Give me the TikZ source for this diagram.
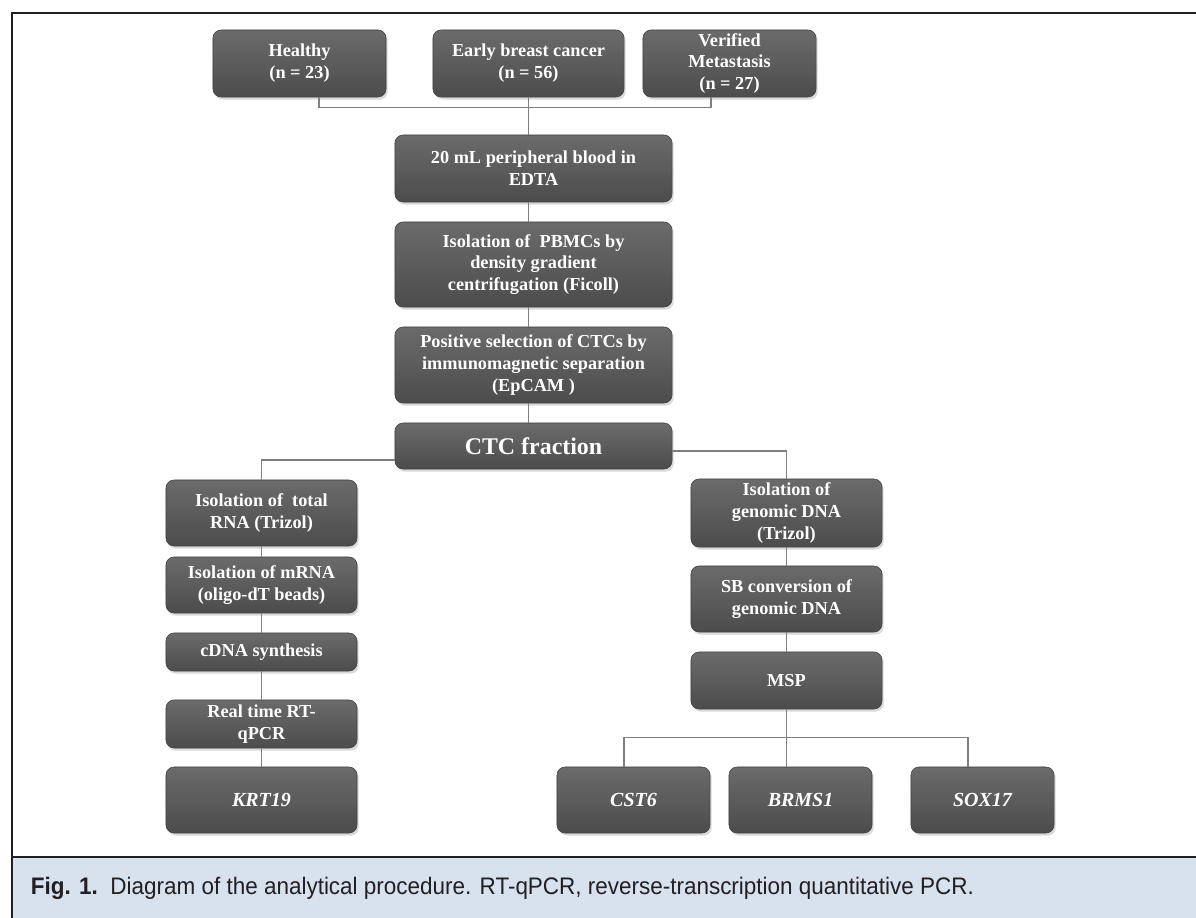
\documentclass[tikz,border=0pt]{standalone}
\usepackage{fontspec}
\setmainfont{Liberation Serif}
\newfontfamily\capfont[FakeStretch=0.94]{Liberation Sans}
\usetikzlibrary{calc,shadows}

\definecolor{boxtop}{HTML}{6B6B6B}
\definecolor{boxbot}{HTML}{4C4C4C}
\definecolor{linkgray}{HTML}{7F7F7F}
\definecolor{capblue}{HTML}{D8E1EE}
\definecolor{inkdark}{HTML}{231F20}

\begin{document}
\begin{tikzpicture}[x=0.025cm, y=-0.025cm,
    stage/.style={rounded corners=0.2cm, draw=boxbot!85!black, line width=0.4pt,
      top color=boxtop, bottom color=boxbot, text=white, align=center, inner sep=1pt,
      font=\fontsize{13}{15.5}\selectfont\bfseries,
      drop shadow={shadow xshift=1.2pt, shadow yshift=-1.8pt, opacity=0.3}},
    gene/.style={stage, font=\fontsize{14.2}{17}\selectfont\bfseries\itshape},
    size/.style 2 args={minimum width=#1cm, minimum height=#2cm},
    link/.style={linkgray, line width=0.8pt}]

  \useasboundingbox (0,0) rectangle (1196,918);

  % ===== Frame and caption band =====
  \fill[capblue] (12,857) rectangle (1196,918);
  \draw[inkdark, line width=2pt] (12,918) -- (12,13) -- (1196,13);
  \draw[inkdark, line width=1.5pt] (12,857) -- (1196,857);
  \node[anchor=west, text=inkdark, font=\capfont\fontsize{17}{20}\selectfont] (caption)
    at (26,888) {\textbf{Fig. 1.}\ \ Diagram of the analytical procedure. RT-qPCR, reverse-transcription quantitative PCR.};

  % ===== Patient groups =====
  \node[stage, size={4.325}{1.675}] (healthy) at (299.5,63.5) {Healthy\\(n = 23)};
  \node[stage, size={4.775}{1.675}] (early) at (528.5,63.5) {Early breast cancer\\(n = 56)};
  \node[stage, size={4.325}{1.675}] (verified) at (729.5,63.5) {Verified\\Metastasis\\(n = 27)};

  % ===== Common steps =====
  \node[stage, size={6.925}{1.675}] (blood) at (533.5,168.5) {20 mL peripheral blood in\\EDTA};
  \node[stage, size={6.925}{2.125}] (pbmc) at (533.5,264.5)
    {Isolation of \ PBMCs by\\density gradient\\centrifugation (Ficoll)};
  \node[stage, size={6.925}{1.9}] (cellsel) at (533.5,365)
    {Positive selection of CTCs by\\immunomagnetic separation\\(EpCAM )};
  \node[stage, size={6.925}{1.15}, font=\fontsize{17}{20}\selectfont\bfseries] (ctc) at (533.5,446) {CTC fraction};

  % ===== RNA branch =====
  \node[stage, size={4.775}{1.65}] (rna) at (261.5,513) {Isolation of \ total\\RNA (Trizol)};
  \node[stage, size={4.775}{1.4}] (mrna) at (261.5,585) {Isolation of mRNA\\(oligo-dT beads)};
  \node[stage, size={4.775}{0.95}] (cdna) at (261.5,652) {cDNA synthesis};
  \node[stage, size={4.775}{1.2}] (rtqpcr) at (261.5,724) {Real time RT-\\qPCR};
  \node[gene, size={4.775}{1.65}] (krt) at (261.5,800) {KRT19};

  % ===== DNA branch =====
  \node[stage, size={4.775}{1.7}] (gdna) at (786.5,513) {Isolation of\\genomic DNA\\(Trizol)};
  \node[stage, size={4.775}{1.65}] (sbconv) at (786.5,599) {SB conversion of\\genomic DNA};
  \node[stage, size={4.775}{1.425}] (msp) at (786.5,680.5) {MSP};
  \node[gene, size={3.825}{1.65}] (cst) at (633.5,800) {CST6};
  \node[gene, size={3.575}{1.65}] (brms) at (800.5,800) {BRMS1};
  \node[gene, size={3.575}{1.65}] (sox) at (982.5,800) {SOX17};

  % ===== Connectors =====
  \draw[link] ($(healthy.south)+(19.5,0)$) -- ++(0,10) -| ($(verified.south)+(-18.5,0)$);
  \draw[link] (early.south) -- (early.south |- blood.north);
  \draw[link] (blood.south -| early.south) -- (pbmc.north -| early.south);
  \draw[link] (pbmc.south -| early.south) -- (cellsel.north -| early.south);
  \draw[link] (cellsel.south -| early.south) -- (ctc.north -| early.south);
  \draw[link] ($(ctc.west)+(0,14)$) -| (rna.north);
  \draw[link] ($(ctc.east)+(0,5)$) -| (gdna.north);
  \draw[link] (rna.south) -- (mrna.north);
  \draw[link] (mrna.south) -- (cdna.north);
  \draw[link] (cdna.south) -- (rtqpcr.north);
  \draw[link] (rtqpcr.south) -- (krt.north);
  \draw[link] (gdna.south) -- (sbconv.north);
  \draw[link] (sbconv.south) -- (msp.north);
  \draw[link] (msp.south) -- (msp.south |- brms.north);
  \draw[link] ($(cst.north)+(-9.5,0)$) -- ++(0,-29) -| ($(sox.north)+(-14.5,0)$);

\end{tikzpicture}
\end{document}
